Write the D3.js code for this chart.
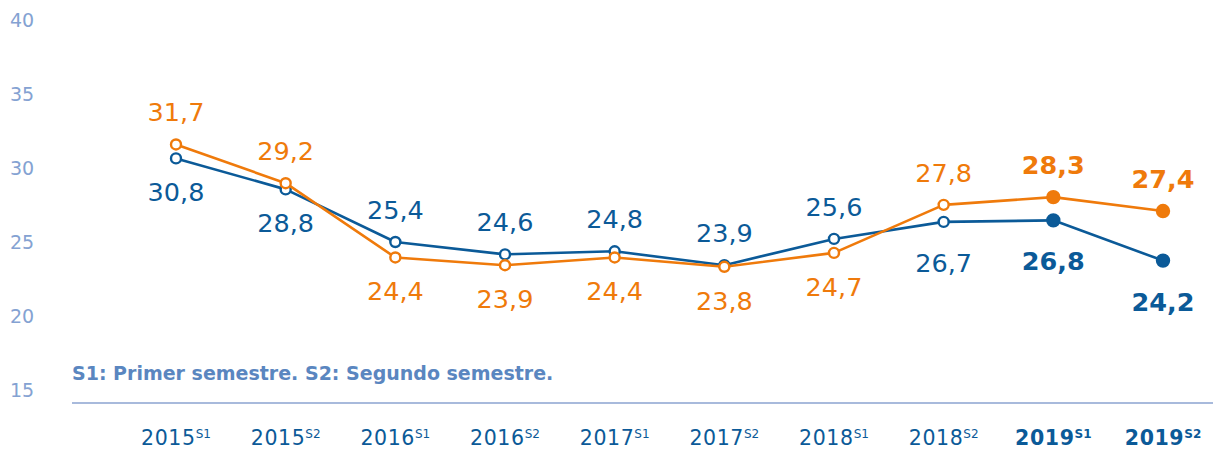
<!DOCTYPE html>
<html>
<head>
<meta charset="utf-8">
<script src="https://cdn.jsdelivr.net/npm/d3@7"></script>
<style>
  html, body { margin: 0; padding: 0; background: #ffffff; }
  svg { display: block; font-family: "DejaVu Sans", sans-serif; }
</style>
</head>
<body>
<svg id="chart" width="1213" height="450"></svg>
<script>
// Semester periods (year + semester) shown on the x axis
const years = ["2015", "2015", "2016", "2016", "2017", "2017", "2018", "2018", "2019", "2019"];
const semesters = ["S1", "S2", "S1", "S2", "S1", "S2", "S1", "S2", "S1", "S2"];
// Two series of semester values
const orangeValues = [31.7, 29.2, 24.4, 23.9, 24.4, 23.8, 24.7, 27.8, 28.3, 27.4];
const blueValues = [30.8, 28.8, 25.4, 24.6, 24.8, 23.9, 25.6, 26.7, 26.8, 24.2];
// Latest year is highlighted (bold labels, filled markers)
const highlighted = [false, false, false, false, false, false, false, false, true, true];
const yTicks = [15, 20, 25, 30, 35, 40];
const note = "S1: Primer semestre. S2: Segundo semestre.";

const BLUE = "#0b5a98";
const ORANGE = "#ef7a0b";
const TICK = "#84a2d2";
const NOTE = "#5a86c0";
const RULE = "#a8badc";

const svg = d3.select("#chart");
const idx = d3.range(years.length);

const x = d3.scalePoint().domain(idx).range([176, 1163]);
const y = d3.scaleLinear().domain([15, 40]).range([403, 16]);

// Y tick labels sit slightly above the plotted level, the lowest one clear of the rule
svg.append("g").selectAll("text").data(yTicks).join("text")
  .attr("x", 10)
  .attr("y", d => y(d) - 13 + (d - 15) * 0.68)
  .attr("dominant-baseline", "central")
  .attr("fill", TICK)
  .attr("font-size", 19)
  .text(d => d);

// Baseline rule
svg.append("line")
  .attr("x1", 72).attr("x2", 1213)
  .attr("y1", y(15)).attr("y2", y(15))
  .attr("stroke", RULE).attr("stroke-width", 2);

// Footnote
svg.append("text")
  .attr("x", 72).attr("y", 380)
  .attr("fill", NOTE)
  .attr("font-size", 19)
  .attr("font-weight", "bold")
  .text(note);

// X axis labels with superscript semester
const xl = svg.append("g").selectAll("text").data(idx).join("text")
  .attr("x", i => x(i))
  .attr("y", 445)
  .attr("text-anchor", "middle")
  .attr("fill", BLUE)
  .attr("font-weight", i => highlighted[i] ? "bold" : "normal");
xl.append("tspan").attr("font-size", 20.5).attr("letter-spacing", 0.6).text(i => years[i]);
xl.append("tspan").attr("font-size", 12).attr("dy", -7).text(i => semesters[i]);

const line = d3.line().x((d, i) => x(i)).y(d => y(d));

function drawSeries(values, other, color) {
  const g = svg.append("g");
  g.append("path")
    .datum(values)
    .attr("d", line)
    .attr("fill", "none")
    .attr("stroke", color)
    .attr("stroke-width", 2.6)
    .attr("stroke-linejoin", "round");
  g.selectAll("circle").data(values).join("circle")
    .attr("cx", (d, i) => x(i))
    .attr("cy", d => y(d))
    .attr("r", (d, i) => highlighted[i] ? 6 : 5)
    .attr("fill", (d, i) => highlighted[i] ? color : "#ffffff")
    .attr("stroke", color)
    .attr("stroke-width", 2.4);
  // Value labels: above the point when this series is the upper one, below otherwise
  g.selectAll("text").data(values).join("text")
    .attr("x", (d, i) => x(i))
    .attr("y", (d, i) => y(d) + (d > other[i] ? -32 : (highlighted[i] || i === 7 ? 41 : 34)))
    .attr("text-anchor", "middle")
    .attr("dominant-baseline", "central")
    .attr("fill", color)
    .attr("font-size", 25.5)
    .attr("font-weight", (d, i) => highlighted[i] ? "bold" : "normal")
    .text(d => d3.format(".1f")(d).replace(".", ","));
}

drawSeries(blueValues, orangeValues, BLUE);
drawSeries(orangeValues, blueValues, ORANGE);
</script>
</body>
</html>
